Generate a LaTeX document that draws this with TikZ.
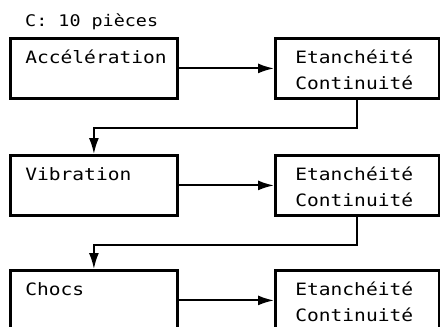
\documentclass[tikz,border=0pt]{standalone}
\usepackage{fontspec}
\setmonofont[FakeStretch=1.15]{DejaVu Sans Mono}
\usetikzlibrary{arrows.meta, positioning}
\tikzset{
    stage/.style={rectangle, draw, line width=2.8pt, text width=137pt, inner xsep=15pt, inner ysep=0pt, text height=25pt, text depth=35pt, align=left},
    check/.style={rectangle, draw, line width=2.8pt, text width=124pt, inner xsep=20pt, inner ysep=0pt, text height=25pt, text depth=35pt, align=left},
    arrow/.style={-{Latex[length=16pt, width=10pt]}, line width=1.9pt},
}

\begin{document}
\begin{tikzpicture}[font=\ttfamily\fontsize{17}{26}\selectfont]
    \useasboundingbox (0,0) rectangle (440pt,-327pt);
    \clip (0,0) rectangle (440pt,-327pt);

    % Stress stages
    \node[stage, anchor=north west] (acc) at (9pt,-37pt) {Accélération};
    \node[stage, below=54.2pt of acc] (vib) {Vibration};
    \node[stage, below=52.2pt of vib] (chocs) {Chocs};

    % Checks after each stage
    \node[check, right=95.2pt of acc] (et1) {Etanchéité\\Continuité};
    \node[check, right=95.2pt of vib] (et2) {Etanchéité\\Continuité};
    \node[check, right=95.2pt of chocs] (et3) {Etanchéité\\Continuité};

    % Sample size
    \node[anchor=base west, inner sep=0pt, font=\ttfamily\fontsize{16}{20}\selectfont] (lot) at ([xshift=16pt, yshift=11pt]acc.north west) {C: 10 pièces};

    \draw[arrow] (acc) -- (et1);
    \draw[arrow] (vib) -- (et2);
    \draw[arrow] (chocs) -- (et3);

    \draw[arrow] (et1.south) -- ++(0,-28pt) -| (vib.north);
    \draw[arrow] (et2.south) -- ++(0,-28pt) -| (chocs.north);
\end{tikzpicture}
\end{document}
